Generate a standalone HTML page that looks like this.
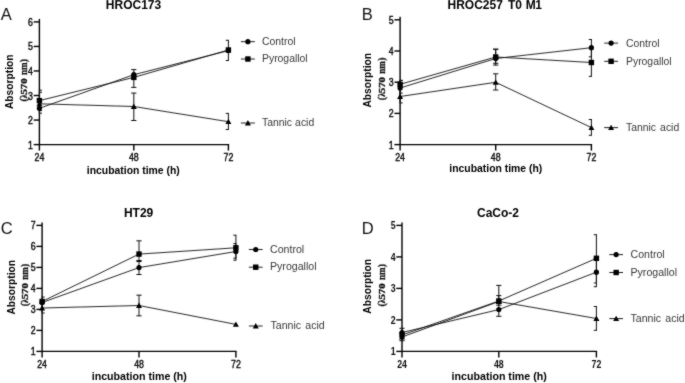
<!DOCTYPE html>
<html><head><meta charset="utf-8"><title>Absorption figure</title>
<style>
html,body{margin:0;padding:0;background:#fff;}
body{width:685px;height:383px;overflow:hidden;font-family:"Liberation Sans",sans-serif;}
svg{display:block;filter:grayscale(100%);}
.s{font-family:"Liberation Sans",sans-serif;}
.sf{font-family:"Liberation Serif",serif;}
</style></head>
<body>
<svg width="685" height="383" viewBox="0 0 685 383">
<defs><filter id="soft" x="-2%" y="-2%" width="104%" height="104%"><feConvolveMatrix order="3" kernelMatrix="1 2 1 2 20 2 1 2 1" edgeMode="none"/></filter></defs>
<rect width="685" height="383" fill="#fff"/>
<g filter="url(#soft)">
<text x="0.8" y="19.8" font-size="16.5" class="s" fill="#111">A</text>
<text x="133.5" y="9.2" font-size="12" font-weight="bold" text-anchor="middle" class="s" fill="#000">HROC173</text>
<line x1="39.4" y1="18.9" x2="39.4" y2="150.6" stroke="#000" stroke-width="1.4"/>
<line x1="39.4" y1="144.6" x2="229.1" y2="144.6" stroke="#000" stroke-width="1.4"/>
<line x1="133.8" y1="144.6" x2="133.8" y2="150.6" stroke="#000" stroke-width="1.4"/>
<line x1="228.4" y1="144.6" x2="228.4" y2="150.6" stroke="#000" stroke-width="1.4"/>
<line x1="33.699999999999996" y1="144.60" x2="39.4" y2="144.60" stroke="#000" stroke-width="1.4"/>
<text transform="translate(33.0,148.60) scale(0.86,1)" font-size="10.2" stroke="#111" stroke-width="0.45" text-anchor="end" class="s" fill="#111">1</text>
<line x1="33.699999999999996" y1="120.06" x2="39.4" y2="120.06" stroke="#000" stroke-width="1.4"/>
<text transform="translate(33.0,124.06) scale(0.86,1)" font-size="10.2" stroke="#111" stroke-width="0.45" text-anchor="end" class="s" fill="#111">2</text>
<line x1="33.699999999999996" y1="95.52" x2="39.4" y2="95.52" stroke="#000" stroke-width="1.4"/>
<text transform="translate(33.0,99.52) scale(0.86,1)" font-size="10.2" stroke="#111" stroke-width="0.45" text-anchor="end" class="s" fill="#111">3</text>
<line x1="33.699999999999996" y1="70.98" x2="39.4" y2="70.98" stroke="#000" stroke-width="1.4"/>
<text transform="translate(33.0,74.98) scale(0.86,1)" font-size="10.2" stroke="#111" stroke-width="0.45" text-anchor="end" class="s" fill="#111">4</text>
<line x1="33.699999999999996" y1="46.44" x2="39.4" y2="46.44" stroke="#000" stroke-width="1.4"/>
<text transform="translate(33.0,50.44) scale(0.86,1)" font-size="10.2" stroke="#111" stroke-width="0.45" text-anchor="end" class="s" fill="#111">5</text>
<line x1="33.699999999999996" y1="21.90" x2="39.4" y2="21.90" stroke="#000" stroke-width="1.4"/>
<text transform="translate(33.0,25.90) scale(0.86,1)" font-size="10.2" stroke="#111" stroke-width="0.45" text-anchor="end" class="s" fill="#111">6</text>
<text transform="translate(39.4,160.9) scale(0.86,1)" font-size="10.2" stroke="#111" stroke-width="0.45" text-anchor="middle" class="s" fill="#111">24</text>
<text transform="translate(133.8,160.9) scale(0.86,1)" font-size="10.2" stroke="#111" stroke-width="0.45" text-anchor="middle" class="s" fill="#111">48</text>
<text transform="translate(228.4,160.9) scale(0.86,1)" font-size="10.2" stroke="#111" stroke-width="0.45" text-anchor="middle" class="s" fill="#111">72</text>
<text x="133.3" y="173.6" font-size="10.4" font-weight="bold" text-anchor="middle" class="s" fill="#000">incubation time (h)</text>
<text transform="translate(13.4,81.8) rotate(-90)" font-size="10" font-weight="bold" text-anchor="middle" textLength="54.6" lengthAdjust="spacingAndGlyphs" class="s" fill="#000">Absorption</text>
<text transform="translate(27.4,101.60) rotate(-90)" font-size="11.4" font-weight="bold" textLength="3.2" lengthAdjust="spacingAndGlyphs" class="sf" fill="#111" stroke="#111" stroke-width="0.3">(</text>
<text transform="translate(27.4,98.20) rotate(-90)" font-size="9.6" font-weight="bold" textLength="4.0" lengthAdjust="spacingAndGlyphs" class="sf" fill="#111" stroke="#111" stroke-width="0.3">λ</text>
<text transform="translate(27.4,94.60) rotate(-90)" font-size="8.8" font-weight="bold" textLength="16.2" lengthAdjust="spacingAndGlyphs" class="sf" fill="#111" stroke="#111" stroke-width="0.3">570</text>
<text transform="translate(27.4,75.10) rotate(-90)" font-size="10.6" font-weight="bold" textLength="12.6" lengthAdjust="spacingAndGlyphs" class="sf" fill="#111" stroke="#111" stroke-width="0.3">nm</text>
<text transform="translate(27.4,62.20) rotate(-90)" font-size="11.4" font-weight="bold" textLength="3.2" lengthAdjust="spacingAndGlyphs" class="sf" fill="#111" stroke="#111" stroke-width="0.3">)</text>
<line x1="39.4" y1="90.2" x2="39.4" y2="113.2" stroke="#111" stroke-width="1"/>
<line x1="38.9" y1="90.2" x2="42.0" y2="90.2" stroke="#111" stroke-width="1"/>
<line x1="38.9" y1="113.2" x2="42.0" y2="113.2" stroke="#111" stroke-width="1"/>
<line x1="39.4" y1="92.3" x2="39.4" y2="110.6" stroke="#111" stroke-width="1"/>
<line x1="38.9" y1="92.3" x2="42.0" y2="92.3" stroke="#111" stroke-width="1"/>
<line x1="38.9" y1="110.6" x2="42.0" y2="110.6" stroke="#111" stroke-width="1"/>
<line x1="133.8" y1="69.6" x2="133.8" y2="87.4" stroke="#111" stroke-width="1"/>
<line x1="131.20000000000002" y1="69.6" x2="136.4" y2="69.6" stroke="#111" stroke-width="1"/>
<line x1="131.20000000000002" y1="87.4" x2="136.4" y2="87.4" stroke="#111" stroke-width="1"/>
<line x1="133.8" y1="93.1" x2="133.8" y2="120.5" stroke="#111" stroke-width="1"/>
<line x1="131.20000000000002" y1="93.1" x2="136.4" y2="93.1" stroke="#111" stroke-width="1"/>
<line x1="131.20000000000002" y1="120.5" x2="136.4" y2="120.5" stroke="#111" stroke-width="1"/>
<line x1="228.4" y1="40.3" x2="228.4" y2="60.5" stroke="#111" stroke-width="1"/>
<line x1="225.8" y1="40.3" x2="228.9" y2="40.3" stroke="#111" stroke-width="1"/>
<line x1="225.8" y1="60.5" x2="228.9" y2="60.5" stroke="#111" stroke-width="1"/>
<line x1="228.4" y1="113.4" x2="228.4" y2="129.5" stroke="#111" stroke-width="1"/>
<line x1="225.8" y1="113.4" x2="228.9" y2="113.4" stroke="#111" stroke-width="1"/>
<line x1="225.8" y1="129.5" x2="228.9" y2="129.5" stroke="#111" stroke-width="1"/>
<polyline points="39.4,103.8 133.8,106.5 228.4,121.7" fill="none" stroke="#111" stroke-width="0.9"/>
<polyline points="39.4,100.6 133.8,77.4 228.4,50.0" fill="none" stroke="#111" stroke-width="0.9"/>
<polyline points="39.4,108.3 133.8,74.7 228.4,50.6" fill="none" stroke="#111" stroke-width="0.9"/>
<polygon points="39.4,100.89999999999999 42.4,106.2 36.4,106.2" fill="#000"/>
<polygon points="133.8,103.6 136.8,108.9 130.8,108.9" fill="#000"/>
<polygon points="228.4,118.8 231.4,124.10000000000001 225.4,124.10000000000001" fill="#000"/>
<rect x="36.699999999999996" y="97.89999999999999" width="5.4" height="5.4" fill="#000"/>
<rect x="131.10000000000002" y="74.7" width="5.4" height="5.4" fill="#000"/>
<rect x="225.70000000000002" y="47.3" width="5.4" height="5.4" fill="#000"/>
<circle cx="39.4" cy="108.3" r="2.6" fill="#000"/>
<circle cx="133.8" cy="74.7" r="2.6" fill="#000"/>
<circle cx="228.4" cy="50.6" r="2.6" fill="#000"/>
<line x1="240.9" y1="41.7" x2="254.9" y2="41.7" stroke="#222" stroke-width="1"/>
<circle cx="247.9" cy="41.7" r="2.6" fill="#000"/>
<text x="262.0" y="44.80" font-size="10.4" class="s" fill="#383838">Control</text>
<line x1="240.9" y1="59.0" x2="254.9" y2="59.0" stroke="#222" stroke-width="1"/>
<rect x="245.20000000000002" y="56.3" width="5.4" height="5.4" fill="#000"/>
<text x="262.0" y="62.30" font-size="10.4" class="s" fill="#383838">Pyrogallol</text>
<line x1="240.9" y1="123.0" x2="254.9" y2="123.0" stroke="#222" stroke-width="1"/>
<polygon points="247.9,120.1 250.9,125.4 244.9,125.4" fill="#000"/>
<text x="262.0" y="126.00" font-size="10.4" class="s" fill="#383838" word-spacing="0.2">Tannic acid</text>
<text x="361.8" y="19.8" font-size="16.5" class="s" fill="#111">B</text>
<text x="447.5" y="8.9" font-size="12" font-weight="bold" class="s" fill="#000">HROC257</text>
<text x="507.9" y="8.9" font-size="12" font-weight="bold" class="s" fill="#000">T0</text>
<text x="525.8" y="8.9" font-size="12" font-weight="bold" class="s" fill="#000">M</text>
<text x="535.2" y="8.9" font-size="12" font-weight="bold" class="s" fill="#000">1</text>
<line x1="400.1" y1="16.8" x2="400.1" y2="150.6" stroke="#000" stroke-width="1.4"/>
<line x1="400.1" y1="144.6" x2="592.1" y2="144.6" stroke="#000" stroke-width="1.4"/>
<line x1="495.7" y1="144.6" x2="495.7" y2="150.6" stroke="#000" stroke-width="1.4"/>
<line x1="591.4" y1="144.6" x2="591.4" y2="150.6" stroke="#000" stroke-width="1.4"/>
<line x1="394.40000000000003" y1="144.60" x2="400.1" y2="144.60" stroke="#000" stroke-width="1.4"/>
<text transform="translate(393.70000000000005,148.60) scale(0.86,1)" font-size="10.2" stroke="#111" stroke-width="0.45" text-anchor="end" class="s" fill="#111">1</text>
<line x1="394.40000000000003" y1="113.40" x2="400.1" y2="113.40" stroke="#000" stroke-width="1.4"/>
<text transform="translate(393.70000000000005,117.40) scale(0.86,1)" font-size="10.2" stroke="#111" stroke-width="0.45" text-anchor="end" class="s" fill="#111">2</text>
<line x1="394.40000000000003" y1="82.20" x2="400.1" y2="82.20" stroke="#000" stroke-width="1.4"/>
<text transform="translate(393.70000000000005,86.20) scale(0.86,1)" font-size="10.2" stroke="#111" stroke-width="0.45" text-anchor="end" class="s" fill="#111">3</text>
<line x1="394.40000000000003" y1="51.00" x2="400.1" y2="51.00" stroke="#000" stroke-width="1.4"/>
<text transform="translate(393.70000000000005,55.00) scale(0.86,1)" font-size="10.2" stroke="#111" stroke-width="0.45" text-anchor="end" class="s" fill="#111">4</text>
<line x1="394.40000000000003" y1="19.80" x2="400.1" y2="19.80" stroke="#000" stroke-width="1.4"/>
<text transform="translate(393.70000000000005,23.80) scale(0.86,1)" font-size="10.2" stroke="#111" stroke-width="0.45" text-anchor="end" class="s" fill="#111">5</text>
<text transform="translate(400.1,160.9) scale(0.86,1)" font-size="10.2" stroke="#111" stroke-width="0.45" text-anchor="middle" class="s" fill="#111">24</text>
<text transform="translate(495.7,160.9) scale(0.86,1)" font-size="10.2" stroke="#111" stroke-width="0.45" text-anchor="middle" class="s" fill="#111">48</text>
<text transform="translate(591.4,160.9) scale(0.86,1)" font-size="10.2" stroke="#111" stroke-width="0.45" text-anchor="middle" class="s" fill="#111">72</text>
<text x="495.8" y="172.4" font-size="10.4" font-weight="bold" text-anchor="middle" class="s" fill="#000">incubation time (h)</text>
<text transform="translate(370.9,80.3) rotate(-90)" font-size="10" font-weight="bold" text-anchor="middle" textLength="54.6" lengthAdjust="spacingAndGlyphs" class="s" fill="#000">Absorption</text>
<text transform="translate(385.4,100.20) rotate(-90)" font-size="11.4" font-weight="bold" textLength="3.2" lengthAdjust="spacingAndGlyphs" class="sf" fill="#111" stroke="#111" stroke-width="0.3">(</text>
<text transform="translate(385.4,96.80) rotate(-90)" font-size="9.6" font-weight="bold" textLength="4.0" lengthAdjust="spacingAndGlyphs" class="sf" fill="#111" stroke="#111" stroke-width="0.3">λ</text>
<text transform="translate(385.4,93.20) rotate(-90)" font-size="8.8" font-weight="bold" textLength="16.2" lengthAdjust="spacingAndGlyphs" class="sf" fill="#111" stroke="#111" stroke-width="0.3">570</text>
<text transform="translate(385.4,73.70) rotate(-90)" font-size="10.6" font-weight="bold" textLength="12.6" lengthAdjust="spacingAndGlyphs" class="sf" fill="#111" stroke="#111" stroke-width="0.3">nm</text>
<text transform="translate(385.4,60.80) rotate(-90)" font-size="11.4" font-weight="bold" textLength="3.2" lengthAdjust="spacingAndGlyphs" class="sf" fill="#111" stroke="#111" stroke-width="0.3">)</text>
<line x1="400.1" y1="80.4" x2="400.1" y2="102.9" stroke="#111" stroke-width="1"/>
<line x1="399.6" y1="80.4" x2="402.70000000000005" y2="80.4" stroke="#111" stroke-width="1"/>
<line x1="399.6" y1="102.9" x2="402.70000000000005" y2="102.9" stroke="#111" stroke-width="1"/>
<line x1="400.1" y1="80.4" x2="400.1" y2="93.1" stroke="#111" stroke-width="1"/>
<line x1="399.6" y1="80.4" x2="402.70000000000005" y2="80.4" stroke="#111" stroke-width="1"/>
<line x1="399.6" y1="93.1" x2="402.70000000000005" y2="93.1" stroke="#111" stroke-width="1"/>
<line x1="495.7" y1="49.2" x2="495.7" y2="65.1" stroke="#111" stroke-width="1"/>
<line x1="493.09999999999997" y1="49.2" x2="498.3" y2="49.2" stroke="#111" stroke-width="1"/>
<line x1="493.09999999999997" y1="65.1" x2="498.3" y2="65.1" stroke="#111" stroke-width="1"/>
<line x1="495.7" y1="49.2" x2="495.7" y2="63.3" stroke="#111" stroke-width="1"/>
<line x1="493.09999999999997" y1="49.2" x2="498.3" y2="49.2" stroke="#111" stroke-width="1"/>
<line x1="493.09999999999997" y1="63.3" x2="498.3" y2="63.3" stroke="#111" stroke-width="1"/>
<line x1="495.7" y1="73.8" x2="495.7" y2="90.0" stroke="#111" stroke-width="1"/>
<line x1="493.09999999999997" y1="73.8" x2="498.3" y2="73.8" stroke="#111" stroke-width="1"/>
<line x1="493.09999999999997" y1="90.0" x2="498.3" y2="90.0" stroke="#111" stroke-width="1"/>
<line x1="591.4" y1="39.5" x2="591.4" y2="56.8" stroke="#111" stroke-width="1"/>
<line x1="588.8" y1="39.5" x2="591.9" y2="39.5" stroke="#111" stroke-width="1"/>
<line x1="588.8" y1="56.8" x2="591.9" y2="56.8" stroke="#111" stroke-width="1"/>
<line x1="591.4" y1="48.6" x2="591.4" y2="76.4" stroke="#111" stroke-width="1"/>
<line x1="588.8" y1="48.6" x2="591.9" y2="48.6" stroke="#111" stroke-width="1"/>
<line x1="588.8" y1="76.4" x2="591.9" y2="76.4" stroke="#111" stroke-width="1"/>
<line x1="591.4" y1="119.5" x2="591.4" y2="135.3" stroke="#111" stroke-width="1"/>
<line x1="588.8" y1="119.5" x2="591.9" y2="119.5" stroke="#111" stroke-width="1"/>
<line x1="588.8" y1="135.3" x2="591.9" y2="135.3" stroke="#111" stroke-width="1"/>
<polyline points="400.1,96.5 495.7,82.3 591.4,127.6" fill="none" stroke="#111" stroke-width="0.9"/>
<polyline points="400.1,88.0 495.7,58.5 591.4,47.7" fill="none" stroke="#111" stroke-width="0.9"/>
<polyline points="400.1,84.3 495.7,57.0 591.4,62.5" fill="none" stroke="#111" stroke-width="0.9"/>
<polygon points="400.1,93.6 403.1,98.9 397.1,98.9" fill="#000"/>
<polygon points="495.7,79.39999999999999 498.7,84.7 492.7,84.7" fill="#000"/>
<polygon points="591.4,124.69999999999999 594.4,130.0 588.4,130.0" fill="#000"/>
<circle cx="400.1" cy="88.0" r="2.6" fill="#000"/>
<circle cx="495.7" cy="58.5" r="2.6" fill="#000"/>
<circle cx="591.4" cy="47.7" r="2.6" fill="#000"/>
<rect x="397.40000000000003" y="81.6" width="5.4" height="5.4" fill="#000"/>
<rect x="493.0" y="54.3" width="5.4" height="5.4" fill="#000"/>
<rect x="588.6999999999999" y="59.8" width="5.4" height="5.4" fill="#000"/>
<line x1="604.2" y1="43.1" x2="618.0" y2="43.1" stroke="#222" stroke-width="1"/>
<circle cx="611.1" cy="43.1" r="2.6" fill="#000"/>
<text x="626.0" y="47.00" font-size="10.4" class="s" fill="#383838">Control</text>
<line x1="604.2" y1="61.3" x2="618.0" y2="61.3" stroke="#222" stroke-width="1"/>
<rect x="608.4" y="58.599999999999994" width="5.4" height="5.4" fill="#000"/>
<text x="626.0" y="65.10" font-size="10.4" class="s" fill="#383838">Pyrogallol</text>
<line x1="604.2" y1="127.6" x2="618.0" y2="127.6" stroke="#222" stroke-width="1"/>
<polygon points="611.1,124.69999999999999 614.1,130.0 608.1,130.0" fill="#000"/>
<text x="626.0" y="131.00" font-size="10.4" class="s" fill="#383838" word-spacing="1.2">Tannic acid</text>
<text x="0.8" y="234.2" font-size="16.5" class="s" fill="#111">C</text>
<text x="138.6" y="217.4" font-size="12" font-weight="bold" text-anchor="middle" class="s" fill="#000">HT29</text>
<line x1="42.1" y1="222.4" x2="42.1" y2="357.4" stroke="#000" stroke-width="1.4"/>
<line x1="42.1" y1="351.4" x2="236.6" y2="351.4" stroke="#000" stroke-width="1.4"/>
<line x1="139.0" y1="351.4" x2="139.0" y2="357.4" stroke="#000" stroke-width="1.4"/>
<line x1="235.9" y1="351.4" x2="235.9" y2="357.4" stroke="#000" stroke-width="1.4"/>
<line x1="36.4" y1="351.40" x2="42.1" y2="351.40" stroke="#000" stroke-width="1.4"/>
<text transform="translate(35.7,355.40) scale(0.86,1)" font-size="10.2" stroke="#111" stroke-width="0.45" text-anchor="end" class="s" fill="#111">1</text>
<line x1="36.4" y1="330.40" x2="42.1" y2="330.40" stroke="#000" stroke-width="1.4"/>
<text transform="translate(35.7,334.40) scale(0.86,1)" font-size="10.2" stroke="#111" stroke-width="0.45" text-anchor="end" class="s" fill="#111">2</text>
<line x1="36.4" y1="309.40" x2="42.1" y2="309.40" stroke="#000" stroke-width="1.4"/>
<text transform="translate(35.7,313.40) scale(0.86,1)" font-size="10.2" stroke="#111" stroke-width="0.45" text-anchor="end" class="s" fill="#111">3</text>
<line x1="36.4" y1="288.40" x2="42.1" y2="288.40" stroke="#000" stroke-width="1.4"/>
<text transform="translate(35.7,292.40) scale(0.86,1)" font-size="10.2" stroke="#111" stroke-width="0.45" text-anchor="end" class="s" fill="#111">4</text>
<line x1="36.4" y1="267.40" x2="42.1" y2="267.40" stroke="#000" stroke-width="1.4"/>
<text transform="translate(35.7,271.40) scale(0.86,1)" font-size="10.2" stroke="#111" stroke-width="0.45" text-anchor="end" class="s" fill="#111">5</text>
<line x1="36.4" y1="246.40" x2="42.1" y2="246.40" stroke="#000" stroke-width="1.4"/>
<text transform="translate(35.7,250.40) scale(0.86,1)" font-size="10.2" stroke="#111" stroke-width="0.45" text-anchor="end" class="s" fill="#111">6</text>
<line x1="36.4" y1="225.40" x2="42.1" y2="225.40" stroke="#000" stroke-width="1.4"/>
<text transform="translate(35.7,229.40) scale(0.86,1)" font-size="10.2" stroke="#111" stroke-width="0.45" text-anchor="end" class="s" fill="#111">7</text>
<text transform="translate(42.1,367.7) scale(0.86,1)" font-size="10.2" stroke="#111" stroke-width="0.45" text-anchor="middle" class="s" fill="#111">24</text>
<text transform="translate(139.0,367.7) scale(0.86,1)" font-size="10.2" stroke="#111" stroke-width="0.45" text-anchor="middle" class="s" fill="#111">48</text>
<text transform="translate(235.9,367.7) scale(0.86,1)" font-size="10.2" stroke="#111" stroke-width="0.45" text-anchor="middle" class="s" fill="#111">72</text>
<text x="139.3" y="380.4" font-size="10.65" font-weight="bold" text-anchor="middle" class="s" fill="#000">incubation time (h)</text>
<text transform="translate(14.6,287.3) rotate(-90)" font-size="10" font-weight="bold" text-anchor="middle" textLength="54.6" lengthAdjust="spacingAndGlyphs" class="s" fill="#000">Absorption</text>
<text transform="translate(28.0,306.30) rotate(-90)" font-size="11.4" font-weight="bold" textLength="3.2" lengthAdjust="spacingAndGlyphs" class="sf" fill="#111" stroke="#111" stroke-width="0.3">(</text>
<text transform="translate(28.0,302.90) rotate(-90)" font-size="9.6" font-weight="bold" textLength="4.0" lengthAdjust="spacingAndGlyphs" class="sf" fill="#111" stroke="#111" stroke-width="0.3">λ</text>
<text transform="translate(28.0,299.30) rotate(-90)" font-size="8.8" font-weight="bold" textLength="16.2" lengthAdjust="spacingAndGlyphs" class="sf" fill="#111" stroke="#111" stroke-width="0.3">570</text>
<text transform="translate(28.0,279.80) rotate(-90)" font-size="10.6" font-weight="bold" textLength="12.6" lengthAdjust="spacingAndGlyphs" class="sf" fill="#111" stroke="#111" stroke-width="0.3">nm</text>
<text transform="translate(28.0,266.90) rotate(-90)" font-size="11.4" font-weight="bold" textLength="3.2" lengthAdjust="spacingAndGlyphs" class="sf" fill="#111" stroke="#111" stroke-width="0.3">)</text>
<line x1="42.1" y1="297.1" x2="42.1" y2="313.0" stroke="#111" stroke-width="1"/>
<line x1="41.6" y1="297.1" x2="44.7" y2="297.1" stroke="#111" stroke-width="1"/>
<line x1="41.6" y1="313.0" x2="44.7" y2="313.0" stroke="#111" stroke-width="1"/>
<line x1="139.0" y1="240.8" x2="139.0" y2="274.5" stroke="#111" stroke-width="1"/>
<line x1="136.4" y1="240.8" x2="141.6" y2="240.8" stroke="#111" stroke-width="1"/>
<line x1="136.4" y1="274.5" x2="141.6" y2="274.5" stroke="#111" stroke-width="1"/>
<line x1="139.0" y1="260.5" x2="139.0" y2="261.5" stroke="#111" stroke-width="1"/>
<line x1="136.4" y1="260.5" x2="141.6" y2="260.5" stroke="#111" stroke-width="1"/>
<line x1="136.4" y1="261.5" x2="141.6" y2="261.5" stroke="#111" stroke-width="1"/>
<line x1="139.0" y1="295.2" x2="139.0" y2="315.8" stroke="#111" stroke-width="1"/>
<line x1="136.4" y1="295.2" x2="141.6" y2="295.2" stroke="#111" stroke-width="1"/>
<line x1="136.4" y1="315.8" x2="141.6" y2="315.8" stroke="#111" stroke-width="1"/>
<line x1="235.9" y1="235.2" x2="235.9" y2="260.2" stroke="#111" stroke-width="1"/>
<line x1="233.3" y1="235.2" x2="236.4" y2="235.2" stroke="#111" stroke-width="1"/>
<line x1="233.3" y1="260.2" x2="236.4" y2="260.2" stroke="#111" stroke-width="1"/>
<line x1="235.9" y1="243.6" x2="235.9" y2="258.2" stroke="#111" stroke-width="1"/>
<line x1="233.3" y1="243.6" x2="236.4" y2="243.6" stroke="#111" stroke-width="1"/>
<line x1="233.3" y1="258.2" x2="236.4" y2="258.2" stroke="#111" stroke-width="1"/>
<polyline points="42.1,308.0 139.0,305.5 235.9,324.4" fill="none" stroke="#111" stroke-width="0.9"/>
<polyline points="42.1,302.5 139.0,267.6 235.9,251.5" fill="none" stroke="#111" stroke-width="0.9"/>
<polyline points="42.1,301.5 139.0,254.1 235.9,247.8" fill="none" stroke="#111" stroke-width="0.9"/>
<polygon points="42.1,305.1 45.1,310.4 39.1,310.4" fill="#000"/>
<polygon points="139.0,302.6 142.0,307.9 136.0,307.9" fill="#000"/>
<polygon points="235.9,321.5 238.9,326.79999999999995 232.9,326.79999999999995" fill="#000"/>
<circle cx="42.1" cy="302.5" r="2.6" fill="#000"/>
<circle cx="139.0" cy="267.6" r="2.6" fill="#000"/>
<circle cx="235.9" cy="251.5" r="2.6" fill="#000"/>
<rect x="39.4" y="298.8" width="5.4" height="5.4" fill="#000"/>
<rect x="136.3" y="251.4" width="5.4" height="5.4" fill="#000"/>
<rect x="233.20000000000002" y="245.10000000000002" width="5.4" height="5.4" fill="#000"/>
<line x1="248.9" y1="249.5" x2="262.6" y2="249.5" stroke="#222" stroke-width="1"/>
<circle cx="255.75" cy="249.5" r="2.6" fill="#000"/>
<text x="270.0" y="253.20" font-size="10.6" class="s" fill="#383838">Control</text>
<line x1="248.9" y1="267.2" x2="262.6" y2="267.2" stroke="#222" stroke-width="1"/>
<rect x="253.05" y="264.5" width="5.4" height="5.4" fill="#000"/>
<text x="270.0" y="270.30" font-size="10.6" class="s" fill="#383838">Pyrogallol</text>
<line x1="248.9" y1="326.0" x2="262.6" y2="326.0" stroke="#222" stroke-width="1"/>
<polygon points="255.75,323.1 258.75,328.4 252.75,328.4" fill="#000"/>
<text x="270.5" y="329.30" font-size="10.6" class="s" fill="#383838" word-spacing="1.2">Tannic acid</text>
<text x="361.8" y="234.2" font-size="16.5" class="s" fill="#111">D</text>
<text x="498.0" y="217.4" font-size="12" font-weight="bold" text-anchor="middle" class="s" fill="#000">CaCo-2</text>
<line x1="402.0" y1="222.4" x2="402.0" y2="357.4" stroke="#000" stroke-width="1.4"/>
<line x1="402.0" y1="351.4" x2="597.1" y2="351.4" stroke="#000" stroke-width="1.4"/>
<line x1="498.8" y1="351.4" x2="498.8" y2="357.4" stroke="#000" stroke-width="1.4"/>
<line x1="596.4" y1="351.4" x2="596.4" y2="357.4" stroke="#000" stroke-width="1.4"/>
<line x1="396.3" y1="351.40" x2="402.0" y2="351.40" stroke="#000" stroke-width="1.4"/>
<text transform="translate(395.6,355.40) scale(0.86,1)" font-size="10.2" font-weight="bold" text-anchor="end" class="s" fill="#111">1</text>
<line x1="396.3" y1="319.90" x2="402.0" y2="319.90" stroke="#000" stroke-width="1.4"/>
<text transform="translate(395.6,323.90) scale(0.86,1)" font-size="10.2" font-weight="bold" text-anchor="end" class="s" fill="#111">2</text>
<line x1="396.3" y1="288.40" x2="402.0" y2="288.40" stroke="#000" stroke-width="1.4"/>
<text transform="translate(395.6,292.40) scale(0.86,1)" font-size="10.2" font-weight="bold" text-anchor="end" class="s" fill="#111">3</text>
<line x1="396.3" y1="256.90" x2="402.0" y2="256.90" stroke="#000" stroke-width="1.4"/>
<text transform="translate(395.6,260.90) scale(0.86,1)" font-size="10.2" font-weight="bold" text-anchor="end" class="s" fill="#111">4</text>
<line x1="396.3" y1="225.40" x2="402.0" y2="225.40" stroke="#000" stroke-width="1.4"/>
<text transform="translate(395.6,229.40) scale(0.86,1)" font-size="10.2" font-weight="bold" text-anchor="end" class="s" fill="#111">5</text>
<text transform="translate(402.0,367.7) scale(0.86,1)" font-size="10.2" font-weight="bold" text-anchor="middle" class="s" fill="#111">24</text>
<text transform="translate(498.8,367.7) scale(0.86,1)" font-size="10.2" font-weight="bold" text-anchor="middle" class="s" fill="#111">48</text>
<text transform="translate(596.4,367.7) scale(0.86,1)" font-size="10.2" font-weight="bold" text-anchor="middle" class="s" fill="#111">72</text>
<text x="499.2" y="380.4" font-size="10.65" font-weight="bold" text-anchor="middle" class="s" fill="#000">incubation time (h)</text>
<text transform="translate(371.2,286.4) rotate(-90)" font-size="10" font-weight="bold" text-anchor="middle" textLength="54.6" lengthAdjust="spacingAndGlyphs" class="s" fill="#000">Absorption</text>
<text transform="translate(385.2,306.60) rotate(-90)" font-size="11.4" font-weight="bold" textLength="3.2" lengthAdjust="spacingAndGlyphs" class="sf" fill="#111" stroke="#111" stroke-width="0.3">(</text>
<text transform="translate(385.2,303.20) rotate(-90)" font-size="9.6" font-weight="bold" textLength="4.0" lengthAdjust="spacingAndGlyphs" class="sf" fill="#111" stroke="#111" stroke-width="0.3">λ</text>
<text transform="translate(385.2,299.60) rotate(-90)" font-size="8.8" font-weight="bold" textLength="16.2" lengthAdjust="spacingAndGlyphs" class="sf" fill="#111" stroke="#111" stroke-width="0.3">570</text>
<text transform="translate(385.2,280.10) rotate(-90)" font-size="10.6" font-weight="bold" textLength="12.6" lengthAdjust="spacingAndGlyphs" class="sf" fill="#111" stroke="#111" stroke-width="0.3">nm</text>
<text transform="translate(385.2,267.20) rotate(-90)" font-size="11.4" font-weight="bold" textLength="3.2" lengthAdjust="spacingAndGlyphs" class="sf" fill="#111" stroke="#111" stroke-width="0.3">)</text>
<line x1="402.0" y1="328.3" x2="402.0" y2="340.7" stroke="#111" stroke-width="1"/>
<line x1="399.4" y1="328.3" x2="404.6" y2="328.3" stroke="#111" stroke-width="1"/>
<line x1="399.4" y1="340.7" x2="404.6" y2="340.7" stroke="#111" stroke-width="1"/>
<line x1="498.8" y1="285.4" x2="498.8" y2="316.3" stroke="#111" stroke-width="1"/>
<line x1="496.2" y1="285.4" x2="501.40000000000003" y2="285.4" stroke="#111" stroke-width="1"/>
<line x1="496.2" y1="316.3" x2="501.40000000000003" y2="316.3" stroke="#111" stroke-width="1"/>
<line x1="498.8" y1="295.6" x2="498.8" y2="305.2" stroke="#111" stroke-width="1"/>
<line x1="496.2" y1="295.6" x2="501.40000000000003" y2="295.6" stroke="#111" stroke-width="1"/>
<line x1="496.2" y1="305.2" x2="501.40000000000003" y2="305.2" stroke="#111" stroke-width="1"/>
<line x1="596.4" y1="234.7" x2="596.4" y2="286.7" stroke="#111" stroke-width="1"/>
<line x1="593.8" y1="234.7" x2="596.9" y2="234.7" stroke="#111" stroke-width="1"/>
<line x1="593.8" y1="286.7" x2="596.9" y2="286.7" stroke="#111" stroke-width="1"/>
<line x1="596.4" y1="258.3" x2="596.4" y2="283.0" stroke="#111" stroke-width="1"/>
<line x1="593.8" y1="258.3" x2="596.9" y2="258.3" stroke="#111" stroke-width="1"/>
<line x1="593.8" y1="283.0" x2="596.9" y2="283.0" stroke="#111" stroke-width="1"/>
<line x1="596.4" y1="306.5" x2="596.4" y2="330.3" stroke="#111" stroke-width="1"/>
<line x1="593.8" y1="306.5" x2="596.9" y2="306.5" stroke="#111" stroke-width="1"/>
<line x1="593.8" y1="330.3" x2="596.9" y2="330.3" stroke="#111" stroke-width="1"/>
<polyline points="402.0,337.0 498.8,301.5 596.4,318.5" fill="none" stroke="#111" stroke-width="0.9"/>
<polyline points="402.0,332.5 498.8,309.6 596.4,272.2" fill="none" stroke="#111" stroke-width="0.9"/>
<polyline points="402.0,335.0 498.8,301.0 596.4,258.3" fill="none" stroke="#111" stroke-width="0.9"/>
<polygon points="402.0,334.1 405.0,339.4 399.0,339.4" fill="#000"/>
<polygon points="498.8,298.6 501.8,303.9 495.8,303.9" fill="#000"/>
<polygon points="596.4,315.6 599.4,320.9 593.4,320.9" fill="#000"/>
<circle cx="402.0" cy="332.5" r="2.6" fill="#000"/>
<circle cx="498.8" cy="309.6" r="2.6" fill="#000"/>
<circle cx="596.4" cy="272.2" r="2.6" fill="#000"/>
<rect x="399.3" y="332.3" width="5.4" height="5.4" fill="#000"/>
<rect x="496.1" y="298.3" width="5.4" height="5.4" fill="#000"/>
<rect x="593.6999999999999" y="255.60000000000002" width="5.4" height="5.4" fill="#000"/>
<line x1="609.3" y1="254.6" x2="623.0" y2="254.6" stroke="#222" stroke-width="1"/>
<circle cx="616.15" cy="254.6" r="2.6" fill="#000"/>
<text x="630.5" y="258.30" font-size="10.6" class="s" fill="#383838">Control</text>
<line x1="609.3" y1="272.5" x2="623.0" y2="272.5" stroke="#222" stroke-width="1"/>
<rect x="613.4499999999999" y="269.8" width="5.4" height="5.4" fill="#000"/>
<text x="630.5" y="276.10" font-size="10.6" class="s" fill="#383838">Pyrogallol</text>
<line x1="609.3" y1="318.6" x2="623.0" y2="318.6" stroke="#222" stroke-width="1"/>
<polygon points="616.15,315.70000000000005 619.15,321.0 613.15,321.0" fill="#000"/>
<text x="630.5" y="322.10" font-size="10.6" class="s" fill="#383838" word-spacing="1.2">Tannic acid</text>
</g>
</svg>
</body></html>
